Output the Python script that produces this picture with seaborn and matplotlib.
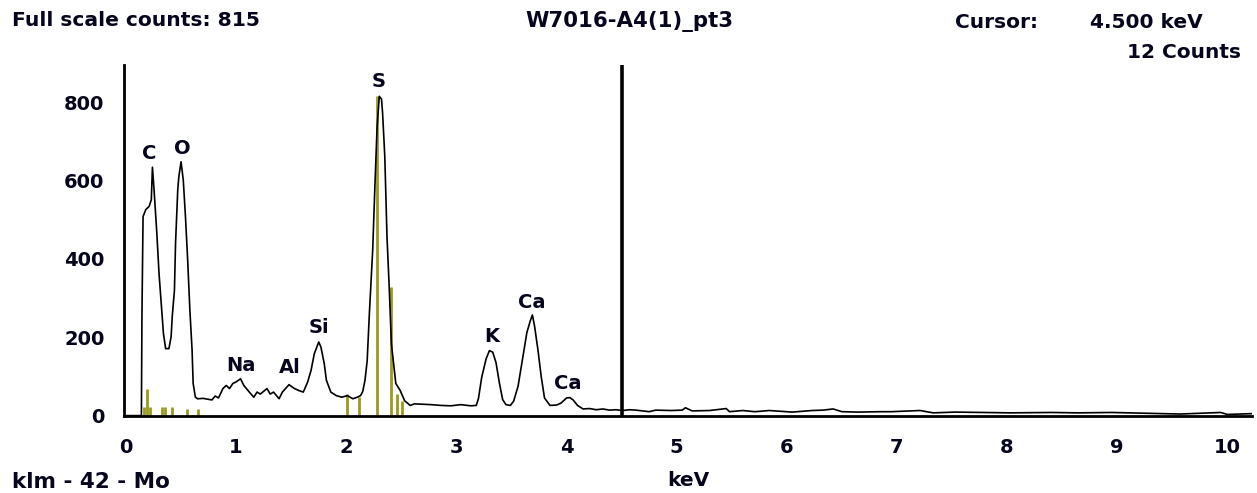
import matplotlib
matplotlib.use("Agg")
import matplotlib.pyplot as plt
import seaborn as sns
import pandas as pd

# ---------------- data ----------------
energy_kev = [0.00, 0.14, 0.145, 0.155, 0.18, 0.21, 0.23, 0.24, 0.255, 0.28,
              0.30, 0.32, 0.34, 0.36, 0.39, 0.41, 0.42, 0.44, 0.45, 0.47,
              0.48, 0.50, 0.52, 0.54, 0.56, 0.58, 0.60, 0.61, 0.63, 0.65,
              0.70, 0.74, 0.78, 0.81, 0.84, 0.88, 0.91, 0.94, 0.97, 1.00,
              1.04, 1.07, 1.12, 1.16, 1.19, 1.22, 1.28, 1.31, 1.34, 1.39,
              1.42, 1.48, 1.53, 1.57, 1.61, 1.65, 1.68, 1.71, 1.75, 1.77,
              1.80, 1.82, 1.86, 1.91, 1.96, 2.01, 2.06, 2.10, 2.13, 2.15,
              2.17, 2.19, 2.21, 2.24, 2.26, 2.28, 2.30, 2.32, 2.33, 2.35,
              2.37, 2.39, 2.41, 2.43, 2.45, 2.49, 2.53, 2.58, 2.62, 2.70,
              2.77, 2.86, 2.95, 3.04, 3.13, 3.18, 3.20, 3.23, 3.27, 3.30,
              3.33, 3.36, 3.39, 3.42, 3.45, 3.49, 3.52, 3.56, 3.60, 3.64,
              3.67, 3.69, 3.71, 3.74, 3.77, 3.80, 3.85, 3.91, 3.95, 4.00,
              4.03, 4.06, 4.10, 4.15, 4.21, 4.27, 4.33, 4.39, 4.45, 4.51,
              4.57, 4.63, 4.75, 4.81, 4.95, 5.05, 5.08, 5.14, 5.30, 5.45,
              5.48, 5.60, 5.71, 5.84, 5.95, 6.05, 6.23, 6.33, 6.42, 6.50,
              6.64, 6.86, 6.95, 7.21, 7.33, 7.53, 7.76, 8.03, 8.40, 8.64,
              8.95, 9.24, 9.57, 9.94, 10.00, 10.22]
counts = [0, 0, 256, 508, 526, 534, 551, 634, 576, 466,
          363, 286, 210, 171, 171, 202, 253, 320, 440, 576,
          610, 648, 602, 508, 398, 270, 168, 82, 47, 43,
          44, 42, 40, 50, 45, 69, 77, 69, 82, 86,
          94, 77, 60, 47, 60, 55, 69, 55, 60, 43,
          60, 79, 69, 64, 60, 86, 115, 158, 188, 175,
          133, 90, 60, 51, 47, 51, 43, 47, 51, 62,
          90, 140, 261, 422, 584, 737, 815, 808, 772, 661,
          456, 328, 183, 133, 82, 64, 38, 26, 30, 29,
          28, 26, 25, 28, 25, 26, 43, 98, 145, 166,
          162, 135, 84, 41, 28, 26, 37, 75, 143, 212,
          241, 257, 228, 169, 100, 45, 26, 27, 32, 45,
          46, 40, 26, 17, 18, 15, 17, 14, 15, 13,
          15, 14, 10, 14, 13, 14, 20, 12, 13, 18,
          10, 13, 10, 13, 11, 9, 13, 14, 17, 10,
          9, 10, 10, 13, 7, 9, 8, 7, 8, 7,
          8, 6, 4, 8, 3, 5]

marker_kev = [0.165, 0.188, 0.22, 0.33, 0.35, 0.417, 0.55, 0.65,
              2.005, 2.12, 2.28, 2.405, 2.465, 2.51]
marker_counts = [22, 68, 22, 22, 22, 22, 17, 17,
                 56, 48, 815, 328, 55, 38]

peak_labels = ["C", "O", "Na", "Al", "Si", "S", "K", "Ca", "Ca"]
peak_label_kev = [0.21, 0.51, 1.04, 1.49, 1.75, 2.29, 3.32, 3.68, 4.01]
peak_label_counts = [670, 683, 128, 123, 226, 853, 201, 290, 81]

x_ticks = [0, 1, 2, 3, 4, 5, 6, 7, 8, 9, 10]
y_ticks = [0, 200, 400, 600, 800]

cursor_kev = 4.5
full_scale = 815
title = "W7016-A4(1)_pt3"
cursor_text = "4.500 keV"
cursor_counts_text = "12 Counts"
element_text = "klm - 42 - Mo"

# ---------------- style ----------------
sns.set_style("white")
plt.rcParams["font.family"] = ["DejaVu Sans"]
plt.rcParams["font.weight"] = "bold"

FS = 14
TXT = "#05051e"

fig = plt.figure(figsize=(12.57, 4.93), dpi=100)
ax = fig.add_axes([124 / 1257, 77 / 493, 1128 / 1257, 351 / 493])

df = pd.DataFrame({"keV": energy_kev, "counts": counts})
sns.lineplot(data=df, x="keV", y="counts", color="black", linewidth=1.2,
             ax=ax, zorder=3)

ax.vlines(marker_kev, 0, marker_counts, colors="#9a9a1e", linewidth=2.0, zorder=2)
ax.axvline(cursor_kev, color="black", linewidth=2.6, zorder=4)

for lab, xk, yc in zip(peak_labels, peak_label_kev, peak_label_counts):
    ax.text(xk, yc, lab, ha="center", va="center", fontsize=FS,
            fontweight="bold", color=TXT)

ax.set_xlim(-0.018, 10.224)
ax.set_ylim(-1, 895)
ax.set_xticks(x_ticks)
ax.set_yticks(y_ticks)
ax.set_xlabel("")
ax.set_ylabel("")
for s in ["top", "right"]:
    ax.spines[s].set_visible(False)
for s in ["left", "bottom"]:
    ax.spines[s].set_color("black")
    ax.spines[s].set_linewidth(2.0)
ax.tick_params(axis="both", direction="out", length=9, width=1.5,
               color="black", labelsize=FS, labelcolor=TXT)
ax.tick_params(axis="x", pad=7)
ax.tick_params(axis="y", pad=5)
for t in ax.get_xticklabels() + ax.get_yticklabels():
    t.set_fontweight("bold")
ax.grid(False)

fig.text(12 / 1257, 1 - 21 / 493, f"Full scale counts: {full_scale}",
         ha="left", va="center", fontsize=14.6, fontweight="bold", color=TXT)
fig.text(629 / 1257, 1 - 21 / 493, title, ha="center", va="center",
         fontsize=15.3, fontweight="bold", color=TXT)
fig.text(955 / 1257, 1 - 23 / 493, "Cursor:", ha="left", va="center",
         fontsize=14.5, fontweight="bold", color=TXT)
fig.text(1203 / 1257, 1 - 23 / 493, cursor_text, ha="right", va="center",
         fontsize=14.5, fontweight="bold", color=TXT)
fig.text(1241 / 1257, 1 - 52 / 493, cursor_counts_text, ha="right", va="center",
         fontsize=14.5, fontweight="bold", color=TXT)
fig.text(12 / 1257, 1 - 482 / 493, element_text, ha="left", va="center",
         fontsize=15.5, fontweight="bold", color=TXT)
fig.text(688 / 1257, 1 - 481 / 493, "keV", ha="center", va="center",
         fontsize=14.5, fontweight="bold", color=TXT)

fig.savefig("out.png", dpi=100, facecolor="white")
